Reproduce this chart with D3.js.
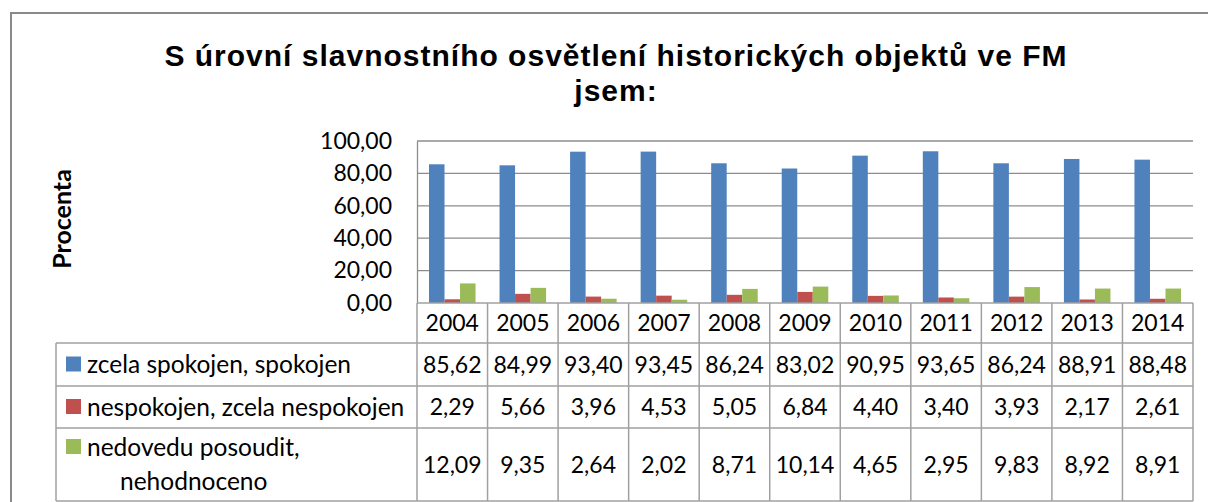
<!DOCTYPE html>
<html>
<head>
<meta charset="utf-8">
<script src="https://cdn.jsdelivr.net/npm/d3@7"></script>
<style>
  body { margin: 0; background: #fff; }
  svg { display: block; }
</style>
</head>
<body>
<svg id="chart" width="1208" height="502"></svg>
<script>
var years = ["2004", "2005", "2006", "2007", "2008", "2009", "2010", "2011", "2012", "2013", "2014"];
var seriesNames = ["zcela spokojen, spokojen", "nespokojen, zcela nespokojen", "nedovedu posoudit, nehodnoceno"];
var spokojen = [85.62, 84.99, 93.40, 93.45, 86.24, 83.02, 90.95, 93.65, 86.24, 88.91, 88.48];
var nespokojen = [2.29, 5.66, 3.96, 4.53, 5.05, 6.84, 4.40, 3.40, 3.93, 2.17, 2.61];
var nedovedu = [12.09, 9.35, 2.64, 2.02, 8.71, 10.14, 4.65, 2.95, 9.83, 8.92, 8.91];
var yTicks = [0, 20, 40, 60, 80, 100];
var colors = ["#4F81BD", "#C0504D", "#9BBB59"];

var seriesValues = [spokojen, nespokojen, nedovedu];
var fmt = function (v) { return v.toFixed(2).replace(".", ","); };

var svg = d3.select("#chart");

// outer chart frame (runs off the right/bottom of the picture)
svg.append("rect")
  .attr("x", 11).attr("y", 13)
  .attr("width", 1300).attr("height", 600)
  .attr("fill", "none")
  .attr("stroke", "#8a8a8a")
  .attr("stroke-width", 2);

var plot = { left: 417, right: 1193, top: 141, bottom: 303 };

var x0 = d3.scaleBand()
  .domain(years)
  .range([plot.left, plot.right])
  .padding(0);

var x1 = d3.scaleBand()
  .domain(d3.range(seriesNames.length))
  .range([12, x0.bandwidth() - 12]);

var y = d3.scaleLinear()
  .domain([0, 100])
  .range([plot.bottom, plot.top]);

// title
var title = svg.append("text")
  .attr("text-anchor", "middle")
  .attr("font-family", "Liberation Sans, Arial, sans-serif")
  .attr("font-weight", "bold")
  .attr("font-size", "30px")
  .attr("letter-spacing", "1px")
  .attr("fill", "#000");
title.append("tspan").attr("x", 616).attr("y", 66)
  .text("S úrovní slavnostního osvětlení historických objektů ve FM");
title.append("tspan").attr("x", 616).attr("y", 101)
  .text("jsem:");

// y axis label
svg.append("text")
  .attr("transform", "translate(71,219) rotate(-90)")
  .attr("text-anchor", "middle")
  .attr("font-family", "Lato, sans-serif")
  .attr("font-weight", "bold")
  .attr("font-size", "25px")
  .attr("fill", "#000")
  .text("Procenta");

// gridlines
svg.append("g")
  .selectAll("line")
  .data(yTicks.filter(function (d) { return d > 0; }))
  .enter()
  .append("line")
  .attr("x1", plot.left).attr("x2", plot.right)
  .attr("y1", function (d) { return y(d); })
  .attr("y2", function (d) { return y(d); })
  .attr("stroke", "#8c8c8c")
  .attr("stroke-width", 1.3);

// y axis
var yAxis = svg.append("g")
  .attr("transform", "translate(" + plot.left + ",0)")
  .call(d3.axisLeft(y).tickValues(yTicks).tickFormat(fmt).tickSize(0).tickPadding(25));
yAxis.select(".domain").attr("stroke", "#8c8c8c").attr("stroke-width", 1.3);
yAxis.selectAll("text")
  .attr("font-family", "Lato, sans-serif")
  .attr("font-size", "23px")
  .attr("fill", "#000");

// bars
svg.append("g")
  .selectAll("g")
  .data(years)
  .enter()
  .append("g")
  .attr("transform", function (d) { return "translate(" + x0(d) + ",0)"; })
  .selectAll("rect")
  .data(function (d, i) {
    return seriesValues.map(function (s, k) { return { key: k, value: s[i] }; });
  })
  .enter()
  .append("rect")
  .attr("x", function (d) { return x1(d.key); })
  .attr("y", function (d) { return y(d.value); })
  .attr("width", x1.bandwidth())
  .attr("height", function (d) { return y(0) - y(d.value); })
  .attr("fill", function (d) { return colors[d.key]; });

// data table
var rowEdges = [303, 343, 386, 428, 501];
var legendLeft = 56;
var tbl = svg.append("g")
  .attr("stroke", "#a0a0a0")
  .attr("stroke-width", 1.5)
  .attr("fill", "none");

// horizontal lines
tbl.selectAll("line.h")
  .data(rowEdges)
  .enter()
  .append("line")
  .attr("x1", function (d, i) { return i < 1 ? plot.left : legendLeft; })
  .attr("x2", plot.right)
  .attr("y1", function (d) { return d; })
  .attr("y2", function (d) { return d; });

// vertical lines
var colEdges = years.map(function (d) { return x0(d); }).concat([plot.right]);
tbl.selectAll("line.v")
  .data(colEdges)
  .enter()
  .append("line")
  .attr("x1", function (d) { return d; })
  .attr("x2", function (d) { return d; })
  .attr("y1", rowEdges[0])
  .attr("y2", rowEdges[rowEdges.length - 1]);
tbl.append("line")
  .attr("x1", legendLeft).attr("x2", legendLeft)
  .attr("y1", rowEdges[1]).attr("y2", rowEdges[rowEdges.length - 1]);

var textFont = "Lato, sans-serif";

// year labels
svg.append("g")
  .selectAll("text")
  .data(years)
  .enter()
  .append("text")
  .attr("x", function (d) { return x0(d) + x0.bandwidth() / 2; })
  .attr("y", (rowEdges[0] + rowEdges[1]) / 2)
  .attr("dy", "0.36em")
  .attr("text-anchor", "middle")
  .attr("font-family", textFont)
  .attr("font-size", "23px")
  .attr("fill", "#000")
  .text(function (d) { return d; });

// values
seriesValues.forEach(function (vals, k) {
  svg.append("g")
    .selectAll("text")
    .data(vals)
    .enter()
    .append("text")
    .attr("x", function (d, i) { return x0(years[i]) + x0.bandwidth() / 2; })
    .attr("y", (rowEdges[k + 1] + rowEdges[k + 2]) / 2)
    .attr("dy", "0.36em")
    .attr("text-anchor", "middle")
    .attr("font-family", textFont)
    .attr("font-size", "23px")
    .attr("fill", "#000")
    .text(fmt);
});

// legend cells
var legendLines = [
  ["zcela spokojen, spokojen"],
  ["nespokojen, zcela nespokojen"],
  ["nedovedu posoudit,", "nehodnoceno"]
];
legendLines.forEach(function (lines, k) {
  var top = rowEdges[k + 1], bottom = rowEdges[k + 2];
  var firstY = lines.length > 1 ? top + 19 : (top + bottom) / 2;
  svg.append("rect")
    .attr("x", 66)
    .attr("y", firstY - 8)
    .attr("width", 15)
    .attr("height", 15)
    .attr("fill", colors[k]);
  lines.forEach(function (line, j) {
    svg.append("text")
      .attr("x", j === 0 ? 87 : 120)
      .attr("y", firstY + j * 34)
      .attr("dy", "0.36em")
      .attr("font-family", textFont)
      .attr("font-size", "24.5px")
      .attr("fill", "#000")
      .text(line);
  });
});
</script>
</body>
</html>
